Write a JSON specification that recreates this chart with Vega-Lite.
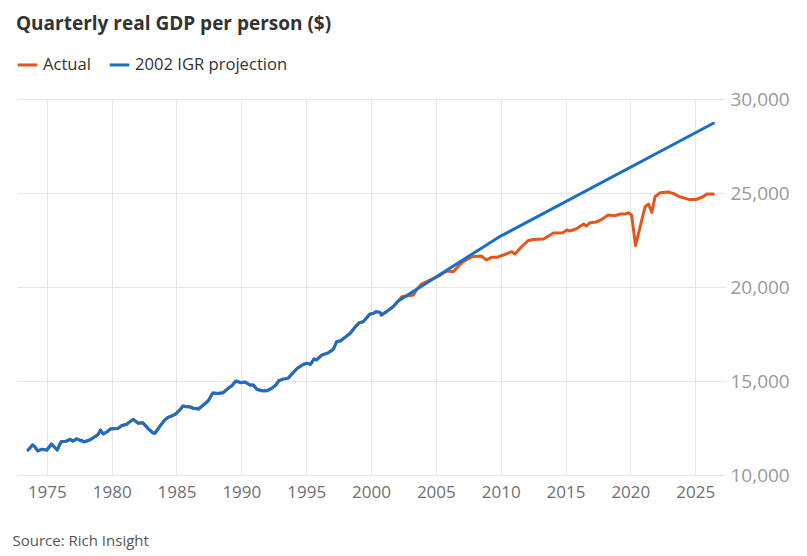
{
  "$schema": "https://vega.github.io/schema/vega-lite/v6.json",
  "width": 708,
  "height": 376,
  "autosize": {"type": "none"},
  "padding": {"left": 17, "top": 99, "right": 82, "bottom": 81},
  "background": "white",
  "config": {
    "font": "Open Sans",
    "view": {"stroke": null},
    "legend": {
      "orient": "none",
      "legendX": -1,
      "legendY": -46,
      "direction": "horizontal",
      "title": null,
      "labelFontSize": 16.6,
      "labelColor": "#333333",
      "symbolType": "stroke",
      "symbolStrokeWidth": 3,
      "symbolSize": 380,
      "columnPadding": 12,
      "labelOffset": 4
    }
  },
  "title": {
    "text": "Quarterly real GDP per person ($)",
    "anchor": "start",
    "frame": "group",
    "dx": -1,
    "fontSize": 19,
    "fontWeight": "bold",
    "color": "#333333",
    "offset": 19
  },
  "data": {
    "values": [
      {"year": 1973.56, "series": "Actual", "value": 11330},
      {"year": 1973.9, "series": "Actual", "value": 11600},
      {"year": 1974.07, "series": "Actual", "value": 11505},
      {"year": 1974.3, "series": "Actual", "value": 11280},
      {"year": 1974.6, "series": "Actual", "value": 11365},
      {"year": 1975.0, "series": "Actual", "value": 11330},
      {"year": 1975.36, "series": "Actual", "value": 11650},
      {"year": 1975.8, "series": "Actual", "value": 11330},
      {"year": 1976.1, "series": "Actual", "value": 11770},
      {"year": 1976.5, "series": "Actual", "value": 11800},
      {"year": 1976.8, "series": "Actual", "value": 11900},
      {"year": 1977.0, "series": "Actual", "value": 11800},
      {"year": 1977.3, "series": "Actual", "value": 11930},
      {"year": 1977.5, "series": "Actual", "value": 11860},
      {"year": 1977.9, "series": "Actual", "value": 11770},
      {"year": 1978.3, "series": "Actual", "value": 11860},
      {"year": 1978.7, "series": "Actual", "value": 12040},
      {"year": 1978.96, "series": "Actual", "value": 12160},
      {"year": 1979.14, "series": "Actual", "value": 12390},
      {"year": 1979.35, "series": "Actual", "value": 12180},
      {"year": 1979.65, "series": "Actual", "value": 12300},
      {"year": 1979.9, "series": "Actual", "value": 12450},
      {"year": 1980.5, "series": "Actual", "value": 12480},
      {"year": 1980.76, "series": "Actual", "value": 12620},
      {"year": 1981.15, "series": "Actual", "value": 12700},
      {"year": 1981.66, "series": "Actual", "value": 12960},
      {"year": 1982.05, "series": "Actual", "value": 12750},
      {"year": 1982.4, "series": "Actual", "value": 12780},
      {"year": 1982.8, "series": "Actual", "value": 12480},
      {"year": 1983.15, "series": "Actual", "value": 12250},
      {"year": 1983.33, "series": "Actual", "value": 12220},
      {"year": 1983.7, "series": "Actual", "value": 12570},
      {"year": 1984.1, "series": "Actual", "value": 12930},
      {"year": 1984.36, "series": "Actual", "value": 13070},
      {"year": 1984.9, "series": "Actual", "value": 13230},
      {"year": 1985.26, "series": "Actual", "value": 13460},
      {"year": 1985.5, "series": "Actual", "value": 13670},
      {"year": 1985.8, "series": "Actual", "value": 13630},
      {"year": 1986.0, "series": "Actual", "value": 13630},
      {"year": 1986.3, "series": "Actual", "value": 13550},
      {"year": 1986.7, "series": "Actual", "value": 13510},
      {"year": 1987.06, "series": "Actual", "value": 13720},
      {"year": 1987.45, "series": "Actual", "value": 13950},
      {"year": 1987.8, "series": "Actual", "value": 14360},
      {"year": 1988.2, "series": "Actual", "value": 14340},
      {"year": 1988.6, "series": "Actual", "value": 14380},
      {"year": 1988.99, "series": "Actual", "value": 14610},
      {"year": 1989.25, "series": "Actual", "value": 14730},
      {"year": 1989.58, "series": "Actual", "value": 15000},
      {"year": 1989.95, "series": "Actual", "value": 14910},
      {"year": 1990.28, "series": "Actual", "value": 14950},
      {"year": 1990.66, "series": "Actual", "value": 14790},
      {"year": 1990.92, "series": "Actual", "value": 14790},
      {"year": 1991.2, "series": "Actual", "value": 14560},
      {"year": 1991.57, "series": "Actual", "value": 14480},
      {"year": 1991.95, "series": "Actual", "value": 14480},
      {"year": 1992.34, "series": "Actual", "value": 14610},
      {"year": 1992.67, "series": "Actual", "value": 14790},
      {"year": 1992.9, "series": "Actual", "value": 15020},
      {"year": 1993.2, "series": "Actual", "value": 15100},
      {"year": 1993.6, "series": "Actual", "value": 15140},
      {"year": 1993.95, "series": "Actual", "value": 15410},
      {"year": 1994.3, "series": "Actual", "value": 15670},
      {"year": 1994.8, "series": "Actual", "value": 15890},
      {"year": 1995.03, "series": "Actual", "value": 15940},
      {"year": 1995.35, "series": "Actual", "value": 15890},
      {"year": 1995.6, "series": "Actual", "value": 16170},
      {"year": 1995.8, "series": "Actual", "value": 16120},
      {"year": 1996.2, "series": "Actual", "value": 16380},
      {"year": 1996.7, "series": "Actual", "value": 16500},
      {"year": 1997.1, "series": "Actual", "value": 16690},
      {"year": 1997.35, "series": "Actual", "value": 17090},
      {"year": 1997.66, "series": "Actual", "value": 17140},
      {"year": 1997.99, "series": "Actual", "value": 17320},
      {"year": 1998.4, "series": "Actual", "value": 17540},
      {"year": 1998.8, "series": "Actual", "value": 17890},
      {"year": 1999.1, "series": "Actual", "value": 18100},
      {"year": 1999.4, "series": "Actual", "value": 18150},
      {"year": 1999.9, "series": "Actual", "value": 18550},
      {"year": 2000.2, "series": "Actual", "value": 18600},
      {"year": 2000.4, "series": "Actual", "value": 18690},
      {"year": 2000.7, "series": "Actual", "value": 18650},
      {"year": 2000.8, "series": "Actual", "value": 18510},
      {"year": 2001.2, "series": "Actual", "value": 18690},
      {"year": 2001.7, "series": "Actual", "value": 18950},
      {"year": 2002.1, "series": "Actual", "value": 19250},
      {"year": 2002.37, "series": "Actual", "value": 19480},
      {"year": 2003.27, "series": "Actual", "value": 19570},
      {"year": 2003.5, "series": "Actual", "value": 19840},
      {"year": 2003.9, "series": "Actual", "value": 20160},
      {"year": 2004.55, "series": "Actual", "value": 20370},
      {"year": 2005.2, "series": "Actual", "value": 20580},
      {"year": 2005.84, "series": "Actual", "value": 20850},
      {"year": 2006.35, "series": "Actual", "value": 20810},
      {"year": 2006.7, "series": "Actual", "value": 21080},
      {"year": 2007.1, "series": "Actual", "value": 21350},
      {"year": 2007.8, "series": "Actual", "value": 21610},
      {"year": 2008.5, "series": "Actual", "value": 21650},
      {"year": 2008.9, "series": "Actual", "value": 21440},
      {"year": 2009.3, "series": "Actual", "value": 21580},
      {"year": 2009.7, "series": "Actual", "value": 21580},
      {"year": 2010.2, "series": "Actual", "value": 21700},
      {"year": 2010.85, "series": "Actual", "value": 21880},
      {"year": 2011.1, "series": "Actual", "value": 21760},
      {"year": 2011.6, "series": "Actual", "value": 22140},
      {"year": 2012.1, "series": "Actual", "value": 22460},
      {"year": 2012.5, "series": "Actual", "value": 22530},
      {"year": 2013.3, "series": "Actual", "value": 22550},
      {"year": 2014.07, "series": "Actual", "value": 22870},
      {"year": 2014.8, "series": "Actual", "value": 22890},
      {"year": 2015.1, "series": "Actual", "value": 23030},
      {"year": 2015.35, "series": "Actual", "value": 22980},
      {"year": 2015.9, "series": "Actual", "value": 23120},
      {"year": 2016.4, "series": "Actual", "value": 23350},
      {"year": 2016.6, "series": "Actual", "value": 23240},
      {"year": 2016.9, "series": "Actual", "value": 23420},
      {"year": 2017.4, "series": "Actual", "value": 23460},
      {"year": 2017.8, "series": "Actual", "value": 23600},
      {"year": 2018.3, "series": "Actual", "value": 23830},
      {"year": 2018.8, "series": "Actual", "value": 23790},
      {"year": 2019.2, "series": "Actual", "value": 23880},
      {"year": 2019.6, "series": "Actual", "value": 23880},
      {"year": 2019.85, "series": "Actual", "value": 23950},
      {"year": 2020.1, "series": "Actual", "value": 23830},
      {"year": 2020.4, "series": "Actual", "value": 22200},
      {"year": 2020.76, "series": "Actual", "value": 23210},
      {"year": 2021.14, "series": "Actual", "value": 24270},
      {"year": 2021.4, "series": "Actual", "value": 24410},
      {"year": 2021.66, "series": "Actual", "value": 23970},
      {"year": 2021.9, "series": "Actual", "value": 24800},
      {"year": 2022.3, "series": "Actual", "value": 25010},
      {"year": 2022.9, "series": "Actual", "value": 25050},
      {"year": 2023.3, "series": "Actual", "value": 24980},
      {"year": 2023.8, "series": "Actual", "value": 24800},
      {"year": 2024.5, "series": "Actual", "value": 24660},
      {"year": 2025.1, "series": "Actual", "value": 24660},
      {"year": 2025.6, "series": "Actual", "value": 24800},
      {"year": 2025.9, "series": "Actual", "value": 24950},
      {"year": 2026.4, "series": "Actual", "value": 24950},

      {"year": 1973.56, "series": "2002 IGR projection", "value": 11330},
      {"year": 1973.9, "series": "2002 IGR projection", "value": 11600},
      {"year": 1974.07, "series": "2002 IGR projection", "value": 11505},
      {"year": 1974.3, "series": "2002 IGR projection", "value": 11280},
      {"year": 1974.6, "series": "2002 IGR projection", "value": 11365},
      {"year": 1975.0, "series": "2002 IGR projection", "value": 11330},
      {"year": 1975.36, "series": "2002 IGR projection", "value": 11650},
      {"year": 1975.8, "series": "2002 IGR projection", "value": 11330},
      {"year": 1976.1, "series": "2002 IGR projection", "value": 11770},
      {"year": 1976.5, "series": "2002 IGR projection", "value": 11800},
      {"year": 1976.8, "series": "2002 IGR projection", "value": 11900},
      {"year": 1977.0, "series": "2002 IGR projection", "value": 11800},
      {"year": 1977.3, "series": "2002 IGR projection", "value": 11930},
      {"year": 1977.5, "series": "2002 IGR projection", "value": 11860},
      {"year": 1977.9, "series": "2002 IGR projection", "value": 11770},
      {"year": 1978.3, "series": "2002 IGR projection", "value": 11860},
      {"year": 1978.7, "series": "2002 IGR projection", "value": 12040},
      {"year": 1978.96, "series": "2002 IGR projection", "value": 12160},
      {"year": 1979.14, "series": "2002 IGR projection", "value": 12390},
      {"year": 1979.35, "series": "2002 IGR projection", "value": 12180},
      {"year": 1979.65, "series": "2002 IGR projection", "value": 12300},
      {"year": 1979.9, "series": "2002 IGR projection", "value": 12450},
      {"year": 1980.5, "series": "2002 IGR projection", "value": 12480},
      {"year": 1980.76, "series": "2002 IGR projection", "value": 12620},
      {"year": 1981.15, "series": "2002 IGR projection", "value": 12700},
      {"year": 1981.66, "series": "2002 IGR projection", "value": 12960},
      {"year": 1982.05, "series": "2002 IGR projection", "value": 12750},
      {"year": 1982.4, "series": "2002 IGR projection", "value": 12780},
      {"year": 1982.8, "series": "2002 IGR projection", "value": 12480},
      {"year": 1983.15, "series": "2002 IGR projection", "value": 12250},
      {"year": 1983.33, "series": "2002 IGR projection", "value": 12220},
      {"year": 1983.7, "series": "2002 IGR projection", "value": 12570},
      {"year": 1984.1, "series": "2002 IGR projection", "value": 12930},
      {"year": 1984.36, "series": "2002 IGR projection", "value": 13070},
      {"year": 1984.9, "series": "2002 IGR projection", "value": 13230},
      {"year": 1985.26, "series": "2002 IGR projection", "value": 13460},
      {"year": 1985.5, "series": "2002 IGR projection", "value": 13670},
      {"year": 1985.8, "series": "2002 IGR projection", "value": 13630},
      {"year": 1986.0, "series": "2002 IGR projection", "value": 13630},
      {"year": 1986.3, "series": "2002 IGR projection", "value": 13550},
      {"year": 1986.7, "series": "2002 IGR projection", "value": 13510},
      {"year": 1987.06, "series": "2002 IGR projection", "value": 13720},
      {"year": 1987.45, "series": "2002 IGR projection", "value": 13950},
      {"year": 1987.8, "series": "2002 IGR projection", "value": 14360},
      {"year": 1988.2, "series": "2002 IGR projection", "value": 14340},
      {"year": 1988.6, "series": "2002 IGR projection", "value": 14380},
      {"year": 1988.99, "series": "2002 IGR projection", "value": 14610},
      {"year": 1989.25, "series": "2002 IGR projection", "value": 14730},
      {"year": 1989.58, "series": "2002 IGR projection", "value": 15000},
      {"year": 1989.95, "series": "2002 IGR projection", "value": 14910},
      {"year": 1990.28, "series": "2002 IGR projection", "value": 14950},
      {"year": 1990.66, "series": "2002 IGR projection", "value": 14790},
      {"year": 1990.92, "series": "2002 IGR projection", "value": 14790},
      {"year": 1991.2, "series": "2002 IGR projection", "value": 14560},
      {"year": 1991.57, "series": "2002 IGR projection", "value": 14480},
      {"year": 1991.95, "series": "2002 IGR projection", "value": 14480},
      {"year": 1992.34, "series": "2002 IGR projection", "value": 14610},
      {"year": 1992.67, "series": "2002 IGR projection", "value": 14790},
      {"year": 1992.9, "series": "2002 IGR projection", "value": 15020},
      {"year": 1993.2, "series": "2002 IGR projection", "value": 15100},
      {"year": 1993.6, "series": "2002 IGR projection", "value": 15140},
      {"year": 1993.95, "series": "2002 IGR projection", "value": 15410},
      {"year": 1994.3, "series": "2002 IGR projection", "value": 15670},
      {"year": 1994.8, "series": "2002 IGR projection", "value": 15890},
      {"year": 1995.03, "series": "2002 IGR projection", "value": 15940},
      {"year": 1995.35, "series": "2002 IGR projection", "value": 15890},
      {"year": 1995.6, "series": "2002 IGR projection", "value": 16170},
      {"year": 1995.8, "series": "2002 IGR projection", "value": 16120},
      {"year": 1996.2, "series": "2002 IGR projection", "value": 16380},
      {"year": 1996.7, "series": "2002 IGR projection", "value": 16500},
      {"year": 1997.1, "series": "2002 IGR projection", "value": 16690},
      {"year": 1997.35, "series": "2002 IGR projection", "value": 17090},
      {"year": 1997.66, "series": "2002 IGR projection", "value": 17140},
      {"year": 1997.99, "series": "2002 IGR projection", "value": 17320},
      {"year": 1998.4, "series": "2002 IGR projection", "value": 17540},
      {"year": 1998.8, "series": "2002 IGR projection", "value": 17890},
      {"year": 1999.1, "series": "2002 IGR projection", "value": 18100},
      {"year": 1999.4, "series": "2002 IGR projection", "value": 18150},
      {"year": 1999.9, "series": "2002 IGR projection", "value": 18550},
      {"year": 2000.2, "series": "2002 IGR projection", "value": 18600},
      {"year": 2000.4, "series": "2002 IGR projection", "value": 18690},
      {"year": 2000.7, "series": "2002 IGR projection", "value": 18650},
      {"year": 2000.8, "series": "2002 IGR projection", "value": 18510},
      {"year": 2001.2, "series": "2002 IGR projection", "value": 18690},
      {"year": 2001.7, "series": "2002 IGR projection", "value": 18950},
      {"year": 2002.1, "series": "2002 IGR projection", "value": 19250},
      {"year": 2009.85, "series": "2002 IGR projection", "value": 22650},
      {"year": 2026.4, "series": "2002 IGR projection", "value": 28710}
    ]
  },
  "encoding": {
    "x": {
      "field": "year",
      "type": "quantitative",
      "scale": {"domain": [1972.7, 2027.3], "nice": false, "zero": false},
      "axis": {
        "values": [1975, 1980, 1985, 1990, 1995, 2000, 2005, 2010, 2015, 2020, 2025],
        "format": "d",
        "grid": true,
        "gridColor": "#e6e6e6",
        "gridWidth": 1,
        "domain": false,
        "ticks": false,
        "labelFontSize": 17,
        "labelColor": "#707070",
        "labelPadding": 9,
        "title": "Source: Rich Insight",
        "titleAnchor": "start",
        "titleAlign": "left",
        "titleBaseline": "alphabetic",
        "titleX": -5,
        "titleY": 70,
        "titleFontSize": 15,
        "titleFontWeight": "normal",
        "titleColor": "#555555"
      }
    },
    "y": {
      "field": "value",
      "type": "quantitative",
      "scale": {"domain": [10000, 30000], "nice": false, "zero": false},
      "axis": {
        "orient": "right",
        "values": [10000, 15000, 20000, 25000, 30000],
        "format": ",d",
        "grid": true,
        "gridColor": "#e6e6e6",
        "gridWidth": 1,
        "domain": false,
        "ticks": false,
        "labelFontSize": 19,
        "labelColor": "#999999",
        "labelPadding": 5,
        "title": null
      }
    },
    "color": {
      "field": "series",
      "type": "nominal",
      "scale": {
        "domain": ["Actual", "2002 IGR projection"],
        "range": ["#e4561b", "#1b6ec6"]
      }
    }
  },
  "layer": [
    {
      "transform": [{"filter": "datum.series === 'Actual'"}],
      "mark": {"type": "line", "strokeWidth": 3, "strokeJoin": "round", "strokeCap": "round"}
    },
    {
      "transform": [{"filter": "datum.series === '2002 IGR projection'"}],
      "mark": {"type": "line", "strokeWidth": 3, "strokeJoin": "round", "strokeCap": "round"}
    }
  ]
}
